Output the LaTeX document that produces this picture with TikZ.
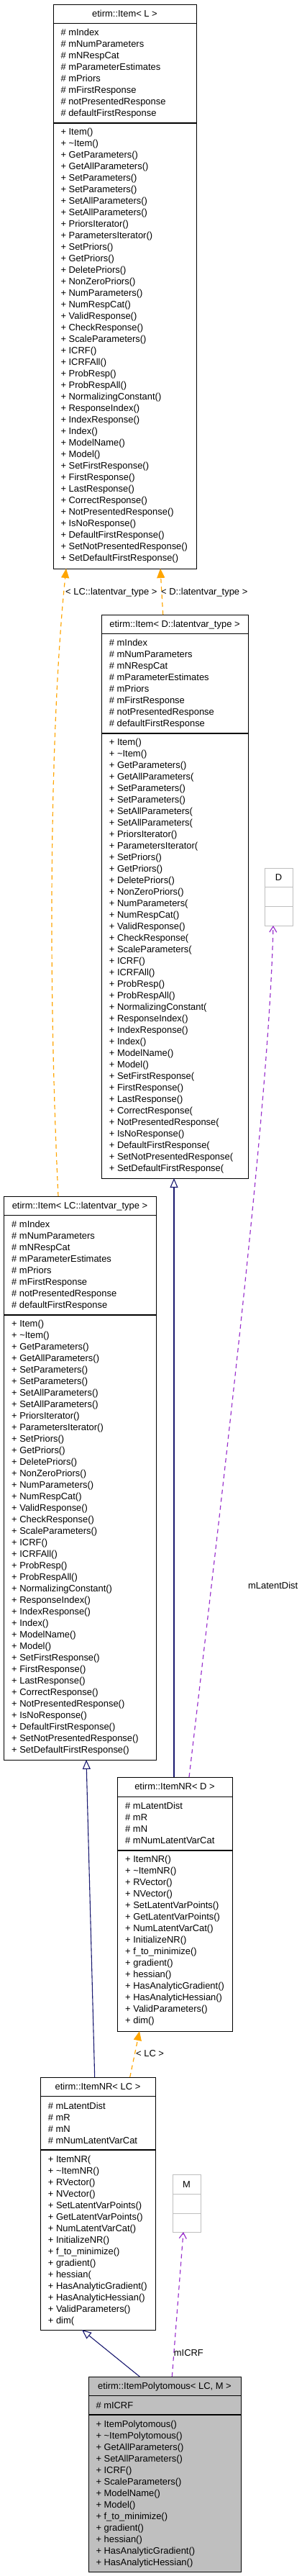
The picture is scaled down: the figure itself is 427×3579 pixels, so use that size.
\documentclass[tikz,border=0pt]{standalone}
\usepackage{fontspec}
\setmainfont{Liberation Sans}
\usetikzlibrary{arrows.meta}
\definecolor{dxorange}{HTML}{FFA500}
\definecolor{dxnavy}{HTML}{191970}
\definecolor{dxpurple}{HTML}{9A32CD}
\definecolor{dxgrey}{HTML}{BFBFBF}
\newcommand{\dxfont}{\fontsize{12.94pt}{16pt}\selectfont}
\newcommand{\members}[4]{\foreach \t [count=\i] in {#4} {\node[txt] (#1-\i) at (#2,{#3+16*(\i-1)+4.6}) {\t};}}
\newcommand{\attrsItem}{\# mIndex, \# mNumParameters, \# mNRespCat, \# mParameterEstimates, \# mPriors, \# mFirstResponse, \# notPresentedResponse, \# defaultFirstResponse}
\tikzset{
  txt/.style={anchor=base west, inner sep=0pt, font=\dxfont},
  ttl/.style={anchor=base, inner sep=0pt, font=\dxfont},
  cls/.style={draw=black, line width=1pt, fill=white, anchor=north west, inner sep=0pt, outer sep=0pt},
  ghost/.style={draw=dxgrey, line width=1pt, fill=white, anchor=north west, inner sep=0pt, outer sep=0pt},
  sep/.style={draw=black, line width=1pt},
  sepb/.style={draw=black, line width=1.6pt},
  tmpl/.style={draw=dxorange, line width=1.2pt, dash pattern=on 6pt off 5pt, -{Triangle[length=13pt,width=11pt,fill=dxorange]}},
  inh/.style={draw=dxnavy, line width=1.1pt, -{Triangle[open,length=13pt,width=11pt,fill=white]}},
  use/.style={draw=dxpurple, line width=1.2pt, dash pattern=on 6pt off 5pt, -{Straight Barb[length=8pt,width=10pt]}},
  lbl/.style={anchor=base west, inner sep=0pt, font=\dxfont},
}
\begin{document}
\begin{tikzpicture}[x=1pt,y=-1pt]
\useasboundingbox (0,0) rectangle (427,3579);

% etirm::Item< L >
\node[cls, minimum width=199pt, minimum height=784pt] (itemL) at (74,6) {};
\draw[sep] ([yshift=-26pt]itemL.north west) -- ([yshift=-26pt]itemL.north east);
\draw[sepb] ([yshift=-165pt]itemL.north west) -- ([yshift=-165pt]itemL.north east);
\node[ttl] (itemL-t) at (173.5,23.6) {etirm::Item< L >};
\members{itemLa}{84.3}{45}{\# mIndex, \# mNumParameters, \# mNRespCat, \# mParameterEstimates, \# mPriors, \# mFirstResponse, \# notPresentedResponse, \# defaultFirstResponse}
\members{itemLm}{84.3}{183}{+ Item(), + \textasciitilde Item(), + GetParameters(), + GetAllParameters(), + SetParameters(), + SetParameters(), + SetAllParameters(), + SetAllParameters(), + PriorsIterator(), + ParametersIterator(), + SetPriors(), + GetPriors(), + DeletePriors(), + NonZeroPriors(), + NumParameters(), + NumRespCat(), + ValidResponse(), + CheckResponse(), + ScaleParameters(), + ICRF(), + ICRFAll(), + ProbResp(), + ProbRespAll(), + NormalizingConstant(), + ResponseIndex(), + IndexResponse(), + Index(), + ModelName(), + Model(), + SetFirstResponse(), + FirstResponse(), + LastResponse(), + CorrectResponse(), + NotPresentedResponse(), + IsNoResponse(), + DefaultFirstResponse(), + SetNotPresentedResponse(), + SetDefaultFirstResponse()}

% etirm::Item< D::latentvar_type >
\node[cls, minimum width=204pt, minimum height=783pt] (itemD) at (141,854) {};
\draw[sep] ([yshift=-26pt]itemD.north west) -- ([yshift=-26pt]itemD.north east);
\draw[sepb] ([yshift=-165pt]itemD.north west) -- ([yshift=-165pt]itemD.north east);
\node[ttl] (itemD-t) at (243,871.6) {etirm::Item< D::latentvar\_type >};
\members{itemDa}{151.7}{893.3}{\# mIndex, \# mNumParameters, \# mNRespCat, \# mParameterEstimates, \# mPriors, \# mFirstResponse, \# notPresentedResponse, \# defaultFirstResponse}
\members{itemDm}{151.7}{1031.3}{+ Item(), + \textasciitilde Item(), + GetParameters(), + GetAllParameters(, + SetParameters(), + SetParameters(), + SetAllParameters(, + SetAllParameters(, + PriorsIterator(), + ParametersIterator(, + SetPriors(), + GetPriors(), + DeletePriors(), + NonZeroPriors(), + NumParameters(, + NumRespCat(), + ValidResponse(), + CheckResponse(, + ScaleParameters(, + ICRF(), + ICRFAll(), + ProbResp(), + ProbRespAll(), + NormalizingConstant(, + ResponseIndex(), + IndexResponse(), + Index(), + ModelName(), + Model(), + SetFirstResponse(, + FirstResponse(), + LastResponse(), + CorrectResponse(, + NotPresentedResponse(, + IsNoResponse(), + DefaultFirstResponse(, + SetNotPresentedResponse(, + SetDefaultFirstResponse(}

% D
\node[ghost, minimum width=39pt, minimum height=80pt] (Dbox) at (368,1206) {};
\draw[draw=dxgrey, line width=1pt] ([yshift=-26.5pt]Dbox.north west) -- ([yshift=-26.5pt]Dbox.north east);
\draw[draw=dxgrey, line width=1pt] ([yshift=-53pt]Dbox.north west) -- ([yshift=-53pt]Dbox.north east);
\node[ttl] (Dbox-t) at (387.5,1223.2) {D};

% etirm::Item< LC::latentvar_type >
\node[cls, minimum width=212pt, minimum height=783pt] (itemLC) at (5,1662) {};
\draw[sep] ([yshift=-26pt]itemLC.north west) -- ([yshift=-26pt]itemLC.north east);
\draw[sepb] ([yshift=-165pt]itemLC.north west) -- ([yshift=-165pt]itemLC.north east);
\node[ttl] (itemLC-t) at (111,1679.6) {etirm::Item< LC::latentvar\_type >};
\members{itemLCa}{16}{1700.7}{\# mIndex, \# mNumParameters, \# mNRespCat, \# mParameterEstimates, \# mPriors, \# mFirstResponse, \# notPresentedResponse, \# defaultFirstResponse}
\members{itemLCm}{16}{1839.3}{+ Item(), + \textasciitilde Item(), + GetParameters(), + GetAllParameters(), + SetParameters(), + SetParameters(), + SetAllParameters(), + SetAllParameters(), + PriorsIterator(), + ParametersIterator(), + SetPriors(), + GetPriors(), + DeletePriors(), + NonZeroPriors(), + NumParameters(), + NumRespCat(), + ValidResponse(), + CheckResponse(), + ScaleParameters(), + ICRF(), + ICRFAll(), + ProbResp(), + ProbRespAll(), + NormalizingConstant(), + ResponseIndex(), + IndexResponse(), + Index(), + ModelName(), + Model(), + SetFirstResponse(), + FirstResponse(), + LastResponse(), + CorrectResponse(), + NotPresentedResponse(), + IsNoResponse(), + DefaultFirstResponse(), + SetNotPresentedResponse(), + SetDefaultFirstResponse()}

% etirm::ItemNR< D >
\node[cls, minimum width=160pt, minimum height=353pt] (nrD) at (163,2469) {};
\draw[sep] ([yshift=-27pt]nrD.north west) -- ([yshift=-27pt]nrD.north east);
\draw[sepb] ([yshift=-102pt]nrD.north west) -- ([yshift=-102pt]nrD.north east);
\node[ttl] (nrD-t) at (243,2486.9) {etirm::ItemNR< D >};
\members{nrDa}{174}{2509.3}{\# mLatentDist, \# mR, \# mN, \# mNumLatentVarCat}
\members{nrDm}{174}{2583.3}{+ ItemNR(), + \textasciitilde ItemNR(), + RVector(), + NVector(), + SetLatentVarPoints(), + GetLatentVarPoints(), + NumLatentVarCat(), + InitializeNR(), + f\_to\_minimize(), + gradient(), + hessian(), + HasAnalyticGradient(), + HasAnalyticHessian(), + ValidParameters(), + dim()}

% etirm::ItemNR< LC >
\node[cls, minimum width=160pt, minimum height=351pt] (nrLC) at (56,2886) {};
\draw[sep] ([yshift=-26pt]nrLC.north west) -- ([yshift=-26pt]nrLC.north east);
\draw[sepb] ([yshift=-101pt]nrLC.north west) -- ([yshift=-101pt]nrLC.north east);
\node[ttl] (nrLC-t) at (136,2903.6) {etirm::ItemNR< LC >};
\members{nrLCa}{66.7}{2925.7}{\# mLatentDist, \# mR, \# mN, \# mNumLatentVarCat}
\members{nrLCm}{66.7}{3000}{+ ItemNR(, + \textasciitilde ItemNR(), + RVector(), + NVector(), + SetLatentVarPoints(), + GetLatentVarPoints(), + NumLatentVarCat(), + InitializeNR(), + f\_to\_minimize(), + gradient(), + hessian(, + HasAnalyticGradient(), + HasAnalyticHessian(), + ValidParameters(), + dim(}

% M
\node[ghost, minimum width=39pt, minimum height=80pt] (Mbox) at (240,3021) {};
\draw[draw=dxgrey, line width=1pt] ([yshift=-27pt]Mbox.north west) -- ([yshift=-27pt]Mbox.north east);
\draw[draw=dxgrey, line width=1pt] ([yshift=-54pt]Mbox.north west) -- ([yshift=-54pt]Mbox.north east);
\node[ttl] (Mbox-t) at (259.5,3039.6) {M};

% etirm::ItemPolytomous< LC, M >
\node[cls, fill=dxgrey, minimum width=212pt, minimum height=271pt] (poly) at (123,3302) {};
\draw[sep] ([yshift=-26pt]poly.north west) -- ([yshift=-26pt]poly.north east);
\draw[sepb] ([yshift=-53pt]poly.north west) -- ([yshift=-53pt]poly.north east);
\node[ttl] (poly-t) at (229,3319.6) {etirm::ItemPolytomous< LC, M >};
\members{polya}{133.3}{3341.7}{\# mICRF}
\members{polym}{133.3}{3367.7}{+ ItemPolytomous(), + \textasciitilde ItemPolytomous(), + GetAllParameters(), + SetAllParameters(), + ICRF(), + ScaleParameters(), + ModelName(), + Model(), + f\_to\_minimize(), + gradient(), + hessian(), + HasAnalyticGradient(), + HasAnalyticHessian()}

% connectors
\draw[tmpl] ([xshift=85.7pt]itemD.north west) -- ([xshift=149pt]itemL.south west);
\node[lbl] (lblD) at (224,826.6) {< D::latentvar\_type >};
\draw[tmpl] ([xshift=76pt]itemLC.north west) .. controls (66,1350) and (70,1000) .. ([xshift=18pt]itemL.south west);
\node[lbl] (lblLC) at (91,826.6) {< LC::latentvar\_type >};
\draw[inh] ([xshift=79pt]nrD.north west) -- ([xshift=101pt]itemD.south west);
\draw[inh] ([xshift=75.7pt]nrLC.north west) -- ([xshift=115pt]itemLC.south west);
\draw[tmpl] ([xshift=124.7pt]nrLC.north west) -- ([xshift=31pt]nrD.south west);
\node[lbl] (lblLC2) at (189,2857.6) {< LC >};
\draw[inh] ([xshift=71.3pt]poly.north west) -- ([xshift=58pt]nrLC.south west);
\draw[use] ([xshift=100pt]nrD.north west) .. controls (330,1900) and (375,1500) .. ([xshift=12pt]Dbox.south west);
\node[lbl] (lblLat) at (345,2207.6) {mLatentDist};
\draw[use] ([xshift=116.3pt]poly.north west) -- ([xshift=15pt]Mbox.south west);
\node[lbl] (lblICRF) at (241.7,3273.6) {mICRF};
\end{tikzpicture}
\end{document}
